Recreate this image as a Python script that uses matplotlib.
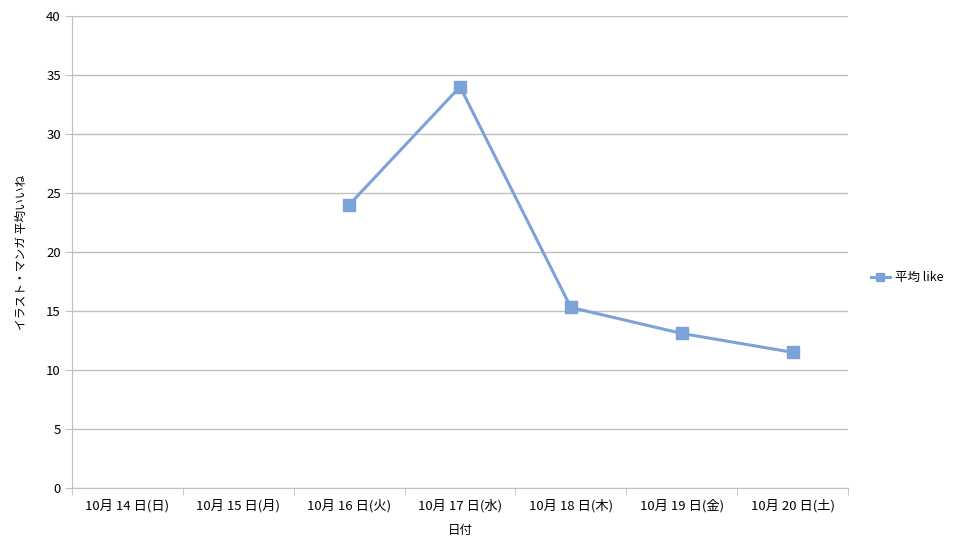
import numpy as np
import matplotlib
matplotlib.use("Agg")
import matplotlib.pyplot as plt

plt.rcParams["font.family"] = ["Noto Sans CJK JP", "DejaVu Sans"]

dates = ["10月 14 日(日)", "10月 15 日(月)", "10月 16 日(火)", "10月 17 日(水)",
         "10月 18 日(木)", "10月 19 日(金)", "10月 20 日(土)"]
avg_like = [np.nan, np.nan, 24.0, 34.0, 15.3, 13.1, 11.5]
y_ticks = [0, 5, 10, 15, 20, 25, 30, 35, 40]

color = "#7ba3d8"
grid_c = "#c0c0c0"

fig = plt.figure(figsize=(9.57, 5.49), dpi=100)
ax = fig.add_axes([0.0752, 0.111, 0.811, 0.860])

x = np.arange(len(dates))
ax.plot(x, avg_like, color=color, linewidth=2.2, marker="s", markersize=8,
        label="平均 like")

ax.set_xlim(-0.5, len(dates) - 0.5)
ax.set_ylim(0, 40)
ax.set_yticks(y_ticks)
ax.yaxis.grid(True, color=grid_c, linewidth=1)
ax.set_axisbelow(True)

ax.set_xticks(x)
ax.set_xticklabels(dates, fontsize=9.5)
ax.tick_params(axis="x", length=0, pad=8)
ax.set_xticks(np.arange(len(dates) + 1) - 0.5, minor=True)
ax.tick_params(axis="x", which="minor", length=5, color=grid_c)
ax.tick_params(axis="y", length=5, color=grid_c, labelsize=9.5, pad=3)

for side in ("top", "right"):
    ax.spines[side].set_visible(False)
for side in ("left", "bottom"):
    ax.spines[side].set_color(grid_c)

ax.set_xlabel("日付", fontsize=9, labelpad=8)
ax.set_ylabel("イラスト・マンガ 平均いいね", fontsize=8.5, labelpad=13)

ax.legend(loc="center left", bbox_to_anchor=(1.015, 0.445), frameon=False,
          fontsize=9, handlelength=1.5, handletextpad=0.4, markerscale=0.75)

fig.savefig("out.png", dpi=100)
